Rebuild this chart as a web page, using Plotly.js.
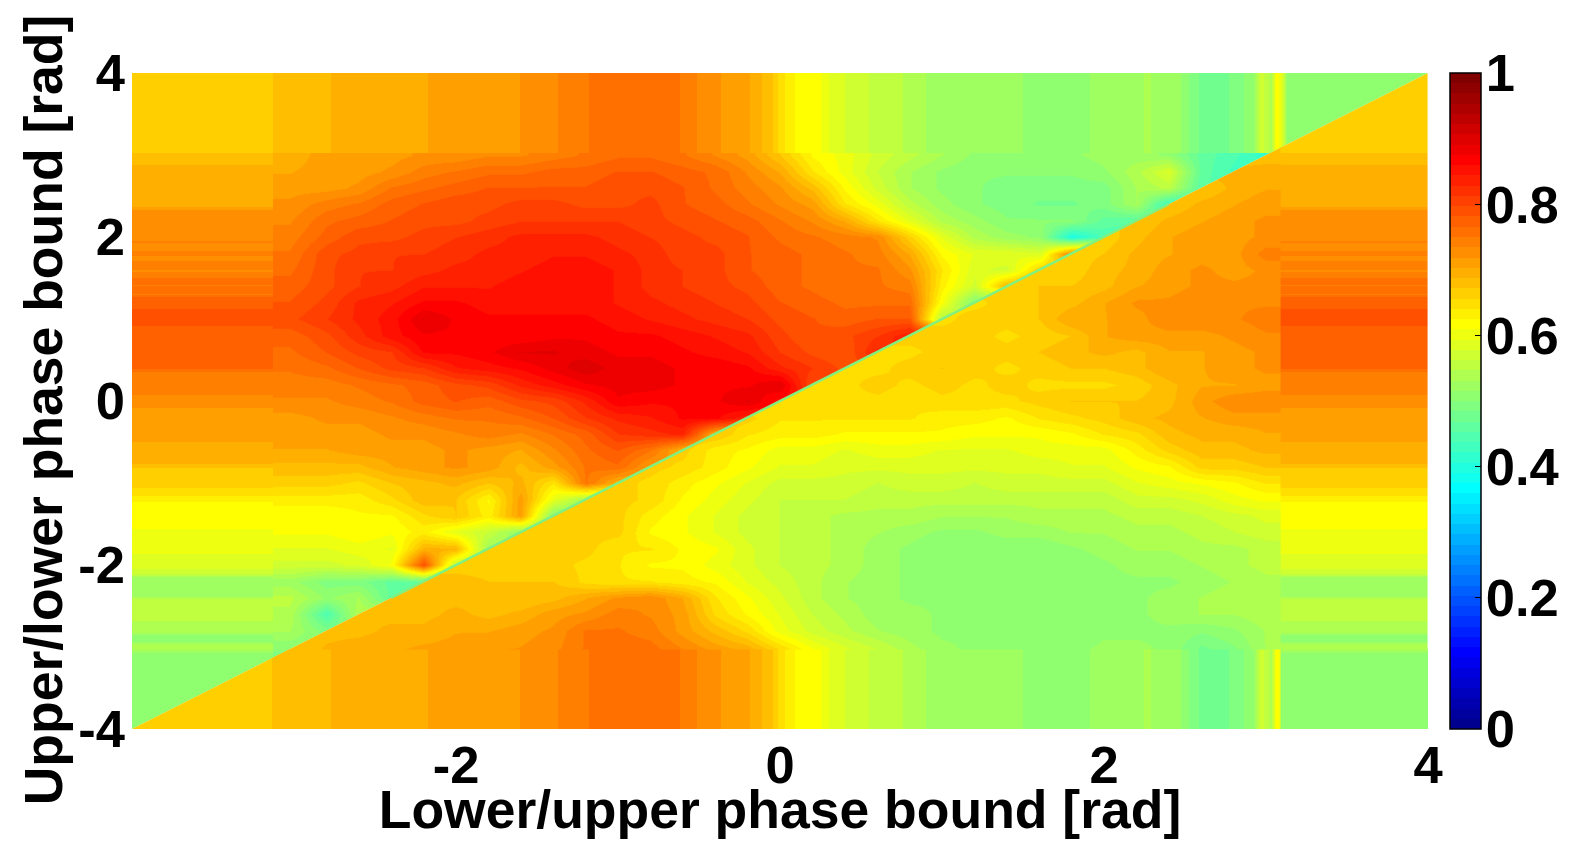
<!DOCTYPE html>
<html><head><meta charset="utf-8">
<script src="https://cdn.plot.ly/plotly-3.0.1.min.js"></script>
<style>html,body{margin:0;padding:0;background:#fff}#c{width:1577px;height:860px}</style>
</head><body><div id="c"></div>
<script>
// Interior grid nodes
const gridX=[-3.03,-2.8,-2.6,-2.4,-2.2,-2,-1.8,-1.6,-1.4,-1.2,-1,-.8,-.6,-.4,-.2,0,.2,.4,.6,.8,1,1.2,1.4,1.6,1.8,2,2.2,2.4,2.6,2.8,3];
const gridY=[-3.1,-2.8,-2.6,-2.4,-2.2,-2,-1.8,-1.6,-1.4,-1.2,-1,-.8,-.6,-.4,-.2,0,.2,.4,.6,.8,1,1.2,1.4,1.6,1.8,2,2.2,2.4,2.6,2.8,3];
// Above the diagonal: row per gridY, columns from gridX[0] up to the diagonal (percent)
const upperRows=[
[50],
[54,50],
[55,45,55],
[56,52,54,47],
[53,50,50,47,46],
[58,58,59,62,80,56],
[60,60,61,60,70,70,53],
[62,62,63,62,64,60,57,52],
[62,62,63,63,66,68,64,72,50],
[64,64,64,66,69,68,63,72,60,53],
[67,67,66,68,69,70,68,70,65,76,70],
[69,69,69,71,72,73,72,69,72,76,77,72],
[71,71,72,72,72,73,72,71,74,77,79,76,70],
[72,72,72,73,73,74,75,74,76,78,82,83,84,70],
[72,73,73,74,75,76,76,77,79,82,84,85,87,87,84],
[74,74,75,76,78,79,78,80,81,84,88,87,87,88,90,86],
[75,75,76,77,78,80,81,84,86,88,89,89,88,88,88,90,80],
[76,77,79,81,82,85,86,87,89,91,89,89,88,88,87,84,82,80],
[77,79,81,82,87,87,88,90,90,89,88,88,87,86,85,82,80,79,84],
[78,80,83,86,88,88,87,87,88,88,87,87,86,85,84,81,79,80,82,85],
[80,82,84,86,90,88,87,87,87,87,86,85,84,83,82,80,79,78,79,79,55],
[79,81,84,85,87,87,86,86,86,86,85,84,83,82,81,79,78,77,77,77,62,50],
[78,80,82,83,85,85,85,86,86,86,85,83,82,81,80,78,77,76,76,75,64,58,70],
[77,80,82,82,83,84,84,85,86,86,85,83,82,81,79,78,77,76,76,73,65,59,58,67],
[76,80,81,82,82,83,84,84,85,85,84,83,81,81,79,78,77,76,75,71,63,60,60,59,76],
[75,78,80,80,81,82,83,84,84,84,83,82,81,80,79,77,76,75,74,67,60,55,53,52,40,45],
[74,77,78,79,80,80,81,82,82,82,82,81,80,79,78,76,74,71,65,60,55,53,51,51,51,47,46],
[73,75,76,78,79,80,80,81,81,80,80,81,79,78,76,74,72,65,61,56,53,51,50,49,49,50,54,43],
[72,72,73,76,77,78,79,79,79,79,80,80,79,77,75,73,69,63,58,54,52,51,50,50,50,50,54,56,46],
[71,72,72,73,75,76,77,77,78,78,79,79,78,77,74,71,65,61,57,54,52,51,51,51,51,52,55,59,47,44],
[70,72,72,72,73,73,74,74,75,76,77,77,76,74,72,68,63,61,58,56,54,52,52,52,52,53,53,52,47,45,42]
];
// Below the diagonal: row per gridY, columns from the diagonal to gridX[last] (percent)
const lowerRows=[
[68,70,71,71,72,72,73,73,74,76,77,77,75,73,72,68,63,60,58,55,53,52,52,52,52,53,53,52,48,50,54],
[69,69,70,70,71,71,72,73,76,76,75,72,69,66,61,58,56,54,53,52,52,52,52,51,52,52,52,51,52,54],
[69,69,69,70,69,70,72,73,75,74,72,66,63,60,57,55,53,53,52,52,52,52,52,52,52,53,54,54,55],
[69,69,69,69,68,69,71,73,74,71,65,62,59,56,54,53,52,52,51,51,51,52,52,52,53,54,55,55],
[69,69,68,68,68,66,65,65,64,63,60,58,56,54,53,52,51,51,51,51,51,52,52,52,53,54,55],
[67,67,67,67,66,65,63,63,61,59,57,56,55,53,52,51,51,51,51,51,52,53,53,54,55,56],
[67,67,67,67,65,65,63,62,59,57,56,55,53,52,51,51,51,51,52,53,54,54,55,55,56],
[67,67,67,67,63,62,60,58,57,56,55,54,53,52,52,53,53,54,54,55,55,56,57,58],
[67,67,67,64,62,60,58,57,56,55,55,55,54,54,54,55,55,55,56,56,57,58,59],
[67,67,66,63,61,59,57,57,57,56,56,56,56,56,56,56,56,58,58,59,61,62],
[67,66,64,62,60,58,58,58,57,58,58,57,58,58,58,58,60,61,62,63,65],
[67,66,64,62,60,60,59,59,59,59,59,59,59,60,60,62,63,67,67,68],
[67,64,63,61,61,60,61,61,60,60,60,61,61,61,64,67,69,69,70],
[68,65,64,64,63,63,63,63,62,62,62,63,65,66,69,70,70,71],
[67,65,65,65,65,65,64,64,63,65,66,67,69,70,71,72,72],
[65,66,66,66,65,66,66,66,67,68,68,68,69,72,74,74],
[66,66,67,66,67,66,67,66,66,66,67,69,71,71,72],
[66,66,67,68,67,66,67,68,68,69,71,71,72,73],
[66,66,67,67,67,68,69,70,69,71,71,72,73],
[67,67,67,66,67,68,71,72,72,72,73,74],
[66,67,67,68,71,71,72,74,74,74,75],
[66,67,68,69,71,73,73,74,74,74],
[67,68,68,69,71,72,73,73,73],
[67,67,69,70,72,73,72,73],
[67,68,70,71,72,72,75],
[67,69,71,72,72,73],
[68,70,71,72,73],
[68,70,71,72],
[68,70,71],
[70,71],
[68]
];
// Top and bottom bands: value along x
const bandX=[-4,-3.15,-3.1,-2.95,-2.78,-2.7,-2.18,-2.1,-1.62,-1.55,-1.38,-1.3,-1.22,-1,-.68,-.58,-.5,-.3,-.18,-.05,.02,.12,.22,.3,.41,.55,.82,1,1.34,1.85,2.1,2.28,2.47,2.55,2.63,2.75,2.82,2.92,2.97,3,3.03,3.06,3.09,3.13,4];
const bandXValues=[.675,.675,.695,.695,.695,.71,.71,.725,.725,.74,.74,.755,.755,.77,.77,.75,.74,.72,.71,.68,.65,.625,.625,.6,.585,.57,.55,.525,.525,.52,.535,.54,.525,.5,.48,.49,.5,.52,.58,.56,.55,.63,.6,.52,.52];
// Left and right bands: value along y
const bandY=[-4,-3.08,-3.03,-2.96,-2.93,-2.85,-2.8,-2.67,-2.6,-2.42,-2.36,-2.15,-2.1,-1.9,-1.6,-1.5,-1.25,-1.17,-1.05,-.8,-.75,-.51,-.46,-.1,.05,.12,.35,.4,.9,.95,1.1,1.15,1.27,1.3,1.35,1.42,1.47,1.53,1.6,1.67,1.74,1.8,1.87,1.95,2,2.33,2.38,2.85,2.9,3,3.04,4];
const bandYValues=[.51,.51,.545,.545,.52,.52,.55,.555,.56,.56,.53,.53,.58,.6,.61,.625,.625,.645,.665,.68,.7,.705,.72,.725,.735,.75,.755,.775,.78,.8,.8,.785,.78,.755,.77,.755,.77,.75,.74,.755,.735,.75,.735,.745,.73,.73,.71,.71,.69,.69,.675,.675];
const bandEdgesTop=[3.02,3.5,4], bandEdgesBottom=[-4,-3.5,-3.03];
const bandEdgesLeft=[-4,-3.5,-3.13], bandEdgesRight=[3.09,3.5,4];
const diagonalLine=[-2.4,2.4];
const xTicks=[-2,0,2,4], xTickText=['-2','0','2','4'];
const yTicks=[-4,-2,0,2,4], yTickText=['-4','-2','0','2','4'];
const barTicks=[0,.2,.4,.6,.8,1];
const xTitle='Lower/upper phase bound [rad]', yTitle='Upper/lower phase bound [rad]';

const levelOffset=1/128;
const clamp=v=>Math.max(0,Math.min(1,v));
const jetColor=i=>{const v=(i+1)/64;const c=[Math.min(4*v-1.5,-4*v+4.5),Math.min(4*v-.5,-4*v+3.5),Math.min(4*v+.5,-4*v+2.5)].map(a=>Math.round(255*clamp(a)));return `rgb(${c.join(',')})`;};
const jet=[];for(let i=0;i<64;i++){jet.push([i/64,jetColor(i)]);jet.push([(i+1)/64,jetColor(i)]);}

const n=gridX.length;
const upperZ=upperRows.map(r=>{const o=r.map(v=>v/100);while(o.length<n)o.push(o[o.length-1]);return o;});
const lowerZ=lowerRows.map(r=>{const o=r.map(v=>v/100);while(o.length<n)o.unshift(o[0]);return o;});
const heat=(x,y,z,extra)=>Object.assign({type:'heatmap',x,y,z:z.map(r=>r.map(v=>v-levelOffset)),zmin:0,zmax:1,zsmooth:'best',colorscale:jet,showscale:false,hoverinfo:'skip'},extra||{});
const bf=s=>({family:'"Liberation Sans",Arial,sans-serif',size:s,color:'#000',weight:'bold'});
const barX=(1450-132)/1296;
const traces=[
 heat(gridX,gridY,upperZ,{showscale:true,colorbar:{x:barX,xanchor:'left',xpad:0,ypad:0,y:0,yanchor:'bottom',len:1,thickness:31,thicknessmode:'pixels',outlinecolor:'#000',outlinewidth:1.5,ticks:'inside',ticklen:6,tickwidth:1,tickcolor:'#000',tickvals:barTicks,tickfont:bf(52.5)}}),
 heat(gridX,gridY,lowerZ),
 heat(bandX,bandEdgesTop,[bandXValues,bandXValues]),
 heat(bandEdgesLeft,bandY,bandYValues.map(v=>[v,v])),
 heat(bandX,bandEdgesBottom,[bandXValues,bandXValues]),
 heat(bandEdgesRight,bandY,bandYValues.map(v=>[v,v])),
 {type:'scatter',mode:'lines',x:diagonalLine,y:diagonalLine,line:{color:'rgb(128,240,128)',width:2.5},hoverinfo:'skip',showlegend:false}
];
const clipKind=['upper','lower','upper','upper','lower','lower'];
const layout={
 width:1577,height:860,paper_bgcolor:'#fff',plot_bgcolor:'#fff',showlegend:false,
 margin:{l:132,r:149,t:73,b:131,pad:0,autoexpand:false},
 xaxis:{range:[-4,4],tickvals:xTicks,ticktext:xTickText,showgrid:false,zeroline:false,showline:false,ticks:'',tickfont:bf(52.5),ticklabelstandoff:0,title:{text:xTitle,font:bf(53.5),standoff:0}},
 yaxis:{range:[-4,4],tickvals:yTicks,ticktext:yTickText,showgrid:false,zeroline:false,showline:false,ticks:'',tickfont:bf(52.5),ticklabelstandoff:6,title:{text:yTitle,font:bf(53.5),standoff:0}},
 shapes:barTicks.filter(v=>v>0&&v<1).map(v=>({type:'line',xref:'paper',yref:'paper',x0:barX,x1:barX+6/1296,y0:v,y1:v,line:{color:'#000',width:1}}))
};
const gd=document.getElementById('c');
Plotly.newPlot(gd,traces,layout,{displayModeBar:false,responsive:false}).then(()=>{
 const s=gd._fullLayout._size,NS='http://www.w3.org/2000/svg';
 const defs=gd.querySelector('.main-svg defs');
 const mk=(id,pts)=>{const c=document.createElementNS(NS,'clipPath');c.setAttribute('id',id);const p=document.createElementNS(NS,'polygon');p.setAttribute('points',pts);c.appendChild(p);defs.appendChild(c);};
 mk('upper',`0,${s.h} ${s.w},0 0,0`);
 mk('lower',`0,${s.h} ${s.w},0 ${s.w},${s.h}`);
 gd.querySelectorAll('.hm image').forEach((im,i)=>im.setAttribute('clip-path',`url(#${clipKind[i]})`));
 gd.querySelectorAll('.colorbar text').forEach(t=>t.setAttribute('x',(+t.getAttribute('x')||0)-7));
 const gx=gd.querySelector('.g-xtitle'), gy=gd.querySelector('.g-ytitle');
 if(gx) gx.setAttribute('transform','translate(0,-2)');
 if(gy) gy.setAttribute('transform','translate(2,9)');
});
</script></body></html>
